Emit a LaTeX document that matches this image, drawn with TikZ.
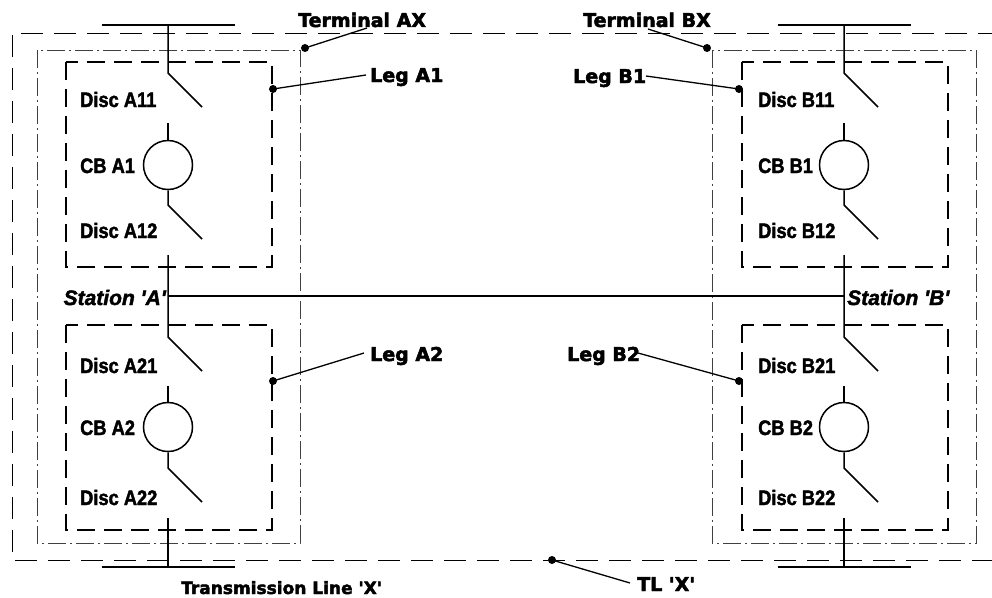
\documentclass[tikz,border=0pt]{standalone}
\usepackage{fontspec}
\usepackage{graphicx}
\setmainfont{Liberation Sans}[Ligatures=TeXOff, BoldFeatures={FakeBold=2}, BoldItalicFeatures={FakeBold=2}]
\newfontfamily\dejavu{DejaVu Sans}[Ligatures=TeXOff, BoldFeatures={FakeBold=2.5}]
\newcommand{\nx}[1]{\scalebox{0.87}[1]{#1}}
\tikzset{
 lbl/.style={inner sep=0pt, anchor=base west, font=\dejavu\bfseries\fontsize{19}{22}\selectfont},
 dl/.style={inner sep=0pt, anchor=base west, font=\bfseries\fontsize{21}{24}\selectfont},
 stn/.style={inner sep=0pt, font=\bfseries\itshape\fontsize{21}{24}\selectfont},
 bus/.style={line width=2pt},
 wire/.style={line width=1.5pt},
 legbox/.style={line width=1.8pt, dash pattern=on 18pt off 9pt},
 termbox/.style={line width=0.9pt, dash pattern=on 18pt off 4pt on 2pt off 4pt, black!75},
 tlbox/.style={line width=1pt, dash pattern=on 22pt off 11pt},
 leader/.style={line width=1.3pt},
 dotc/.style={circle, fill, inner sep=0pt, minimum size=8pt},
 cbc/.style={draw, circle, line width=1.5pt, minimum size=49pt, inner sep=0pt},
}
\begin{document}
\begin{tikzpicture}[x=1pt,y=-1pt]
\useasboundingbox (0,0) rectangle (992,597);
% outer TL boundary
\draw[tlbox] (1000,33) -- (12,33) -- (12,560) -- (1000,560);
% terminal boxes
\draw[termbox] (37,50) rectangle (300,543);
\draw[termbox] (712,50) rectangle (976,543);
% leg boxes
\draw[legbox] (66,62) rectangle (272,267);
\draw[legbox] (66,325) rectangle (272,530);
\draw[legbox] (742,62) rectangle (948,267);
\draw[legbox] (742,325) rectangle (948,530);
% stations
\foreach \cx/\s in {168/A,844/B}{
  \draw[bus] (\cx-66.5,25) -- (\cx+66.5,25);
  \coordinate (t\s) at (\cx,25);
  \coordinate (h\s1) at (\cx,73);
  \coordinate (b\s1) at (\cx+34,107);
  \draw[wire] (t\s) -- (h\s1) -- (b\s1);
  \node[cbc] (cb\s1) at (\cx,165) {};
  \coordinate (u\s1) at (\cx,123);
  \coordinate (h\s2) at (\cx,205);
  \coordinate (b\s2) at (\cx+34,239);
  \draw[wire] (u\s1) -- (cb\s1.north);
  \draw[wire] (cb\s1.south) -- (h\s2) -- (b\s2);
  \coordinate (m\s1) at (\cx,255);
  \coordinate (st\s) at (\cx,296);
  \coordinate (h\s3) at (\cx,337);
  \coordinate (b\s3) at (\cx+34,371);
  \draw[wire] (m\s1) -- (st\s) -- (h\s3) -- (b\s3);
  \node[cbc] (cb\s2) at (\cx,427) {};
  \coordinate (u\s2) at (\cx,386);
  \coordinate (h\s4) at (\cx,468);
  \coordinate (b\s4) at (\cx+34,502);
  \draw[wire] (u\s2) -- (cb\s2.north);
  \draw[wire] (cb\s2.south) -- (h\s4) -- (b\s4);
  \coordinate (m\s2) at (\cx,518);
  \coordinate (g\s) at (\cx,567);
  \draw[wire] (m\s2) -- (g\s);
  \draw[bus] (\cx-66.5,567) -- (\cx+66.5,567);
}
\draw[wire] (stA) -- (stB);
% device labels
\node[dl] (dA11) at (80,107) {\nx{Disc A11}};
\node[dl] (cA1) at (80,173) {\nx{CB A1}};
\node[dl] (dA12) at (80,238) {\nx{Disc A12}};
\node[dl] (dA21) at (80,373) {\nx{Disc A21}};
\node[dl] (cA2) at (80,435) {\nx{CB A2}};
\node[dl] (dA22) at (80,505) {\nx{Disc A22}};
\node[dl] (dB11) at (758,107) {\nx{Disc B11}};
\node[dl] (cB1) at (758,173) {\nx{CB B1}};
\node[dl] (dB12) at (758,238) {\nx{Disc B12}};
\node[dl] (dB21) at (758,373) {\nx{Disc B21}};
\node[dl] (cB2) at (758,435) {\nx{CB B2}};
\node[dl] (dB22) at (758,505) {\nx{Disc B22}};
\node[stn, anchor=base east] (sA) at (166,305) {Station 'A'};
\node[stn, anchor=base west] (sB) at (847,305) {Station 'B'};
% callout labels
\node[lbl] (lTAX) at (298,27) {Terminal AX};
\node[lbl] (lTBX) at (583,27) {Terminal BX};
\node[lbl] (lA1) at (370,82) {Leg A1};
\node[lbl] (lB1) at (573,83) {Leg B1};
\node[lbl] (lA2) at (370,361) {Leg A2};
\node[lbl] (lB2) at (567,361) {Leg B2};
\node[lbl] (lTL) at (637,591) {TL 'X'};
\node[lbl, font=\dejavu\bfseries\fontsize{17}{20}\selectfont] (lTrans) at (181,594) {Transmission Line 'X'};
% dots
\node[dotc] (pTAX) at (305,48) {};
\node[dotc] (pTBX) at (707,48) {};
\node[dotc] (pA1) at (273,89) {};
\node[dotc] (pB1) at (739,89) {};
\node[dotc] (pA2) at (273,381) {};
\node[dotc] (pB2) at (739,381) {};
\node[dotc] (pTL) at (552,560) {};
% leader ends
\coordinate (eTAX) at (367,28);
\coordinate (eTBX) at (648,29);
\coordinate (eA1) at (366,75);
\coordinate (eB1) at (646,76);
\coordinate (eA2) at (364,353);
\coordinate (eB2) at (638,353);
\coordinate (eTL) at (630,583);
\draw[leader] (pTAX.center) -- (eTAX);
\draw[leader] (pTBX.center) -- (eTBX);
\draw[leader] (pA1.center) -- (eA1);
\draw[leader] (pB1.center) -- (eB1);
\draw[leader] (pA2.center) -- (eA2);
\draw[leader] (pB2.center) -- (eB2);
\draw[leader] (pTL.center) -- (eTL);
\end{tikzpicture}
\end{document}
